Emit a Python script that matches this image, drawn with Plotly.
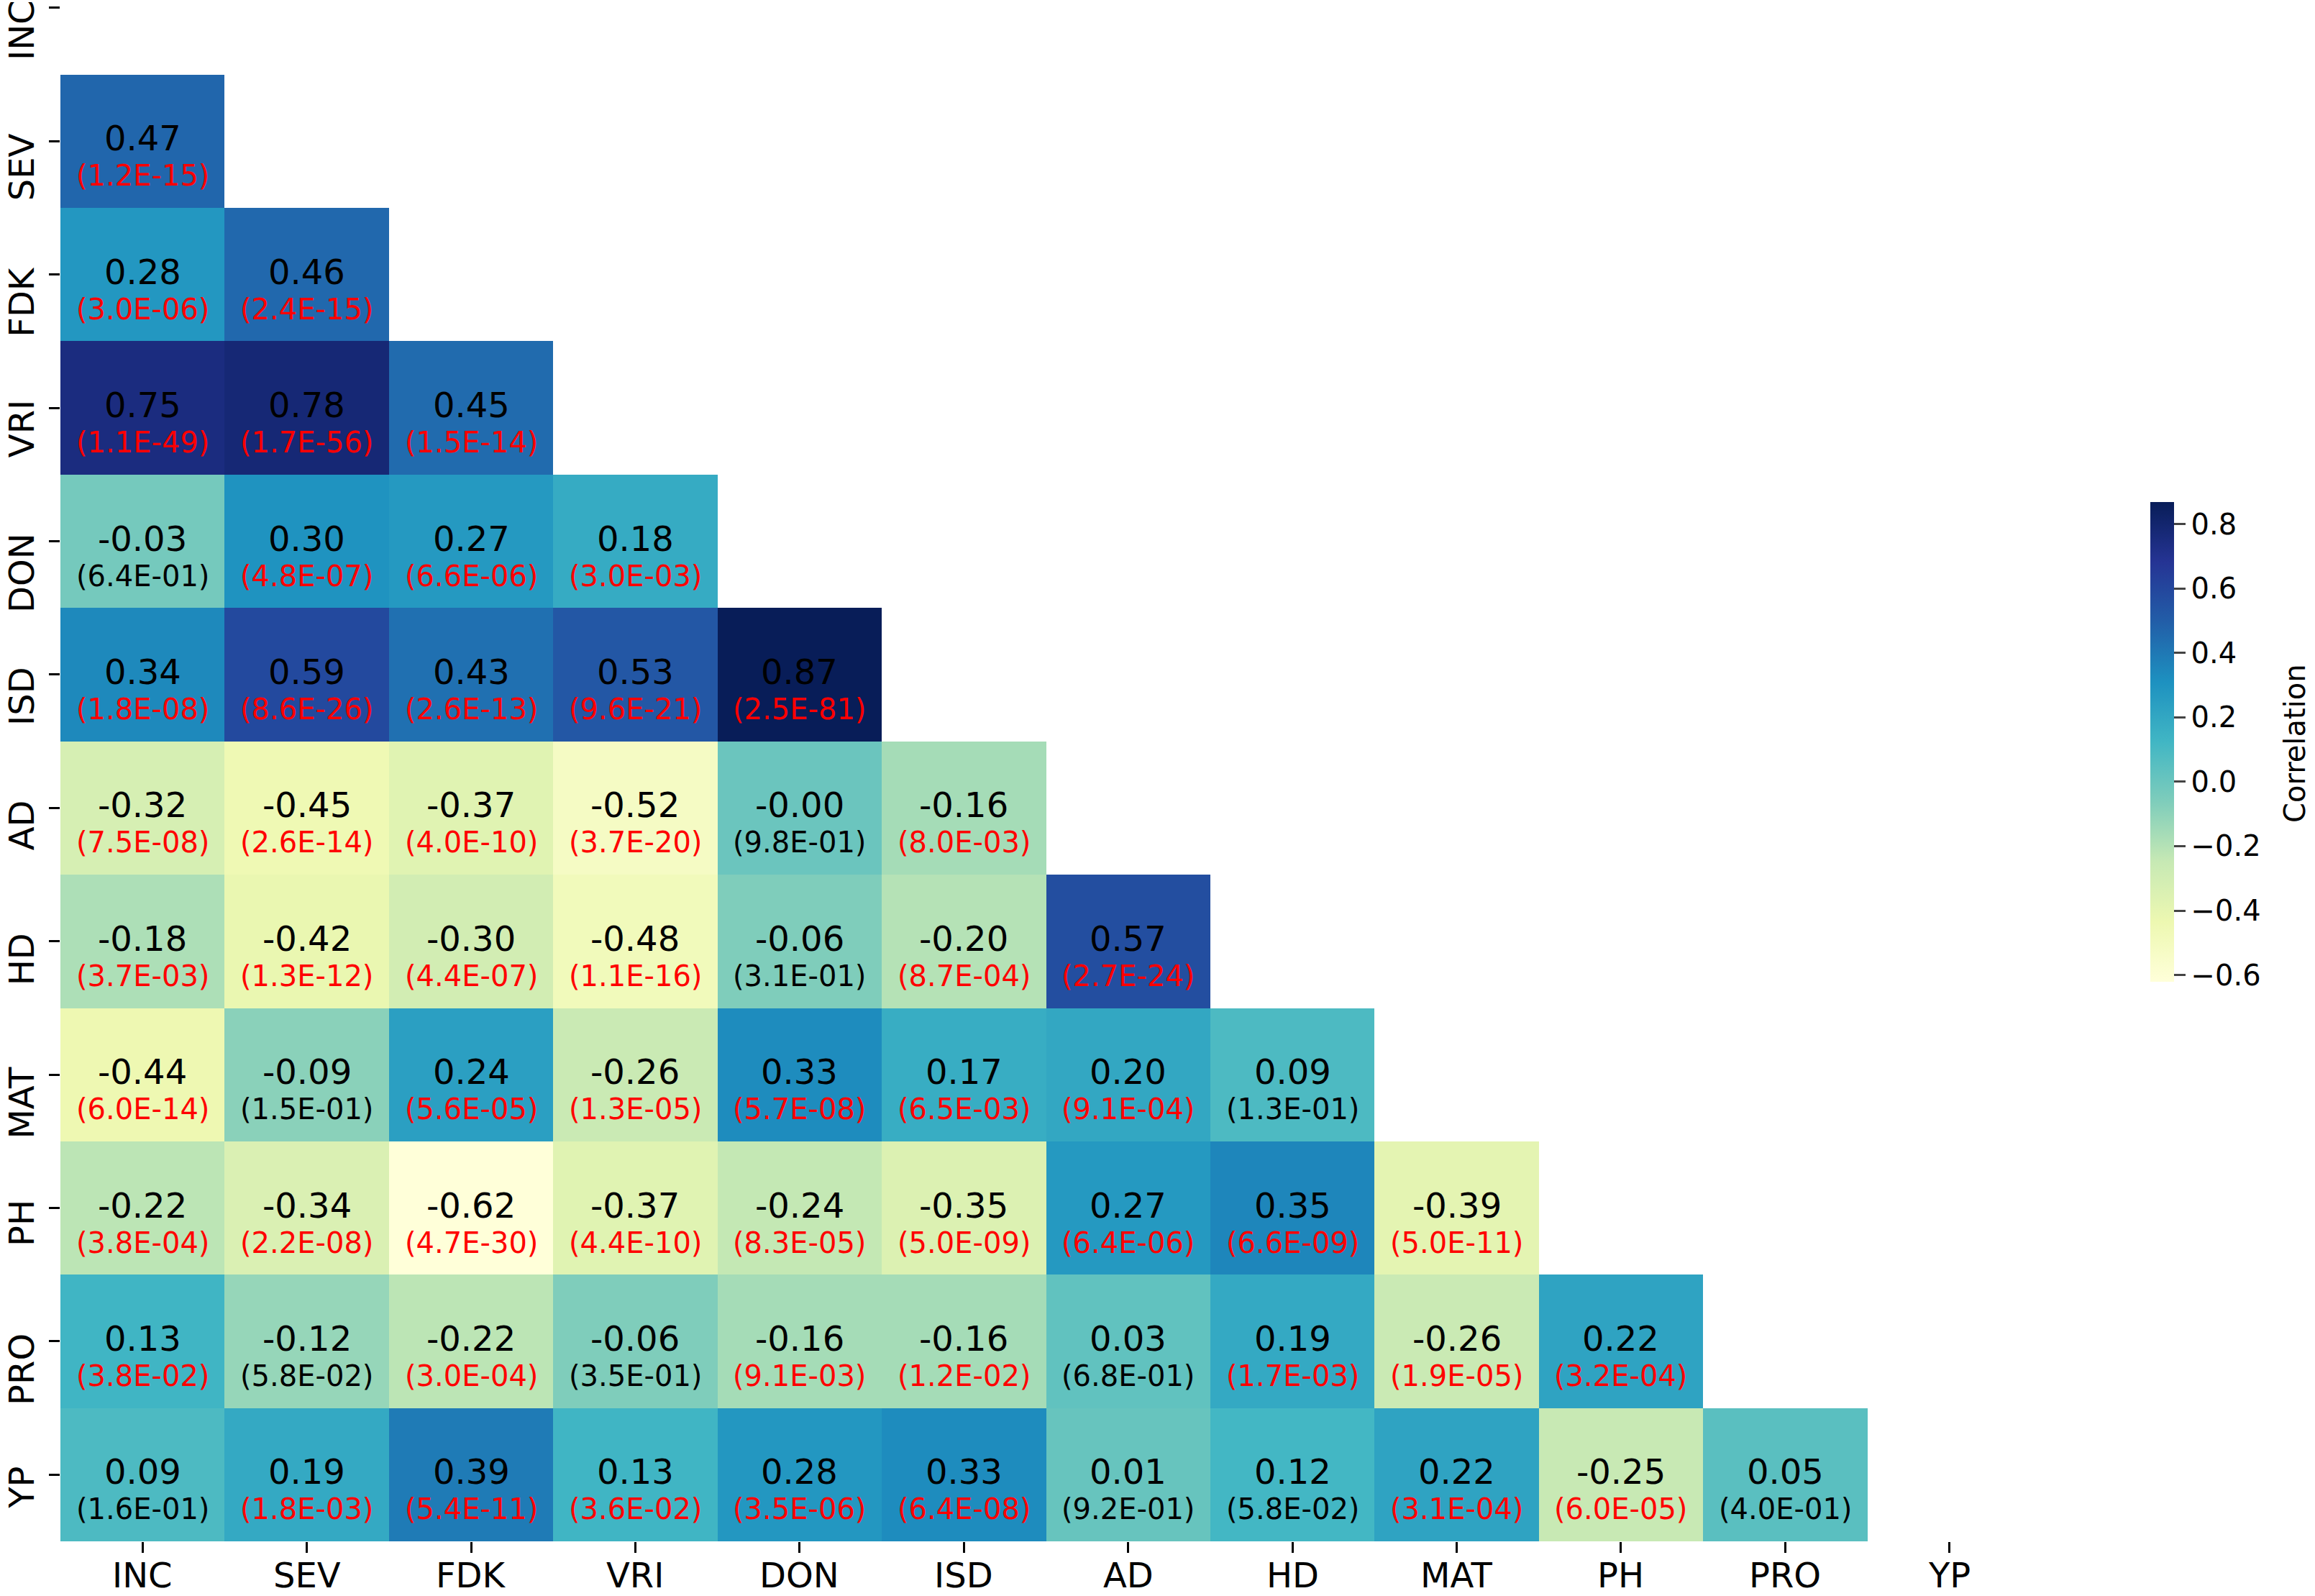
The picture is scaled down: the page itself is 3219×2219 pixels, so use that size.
import plotly.graph_objects as go

# lower-triangle correlation heatmap with p-values
labels = ["INC", "SEV", "FDK", "VRI", "DON", "ISD", "AD", "HD", "MAT", "PH", "PRO", "YP"]

# row i holds the correlations with columns 0..i-1
corr_rows = [
    [],
    [0.47],
    [0.28, 0.46],
    [0.75, 0.78, 0.45],
    [-0.03, 0.30, 0.27, 0.18],
    [0.34, 0.59, 0.43, 0.53, 0.87],
    [-0.32, -0.45, -0.37, -0.52, -0.00, -0.16],
    [-0.18, -0.42, -0.30, -0.48, -0.06, -0.20, 0.57],
    [-0.44, -0.09, 0.24, -0.26, 0.33, 0.17, 0.20, 0.09],
    [-0.22, -0.34, -0.62, -0.37, -0.24, -0.35, 0.27, 0.35, -0.39],
    [0.13, -0.12, -0.22, -0.06, -0.16, -0.16, 0.03, 0.19, -0.26, 0.22],
    [0.09, 0.19, 0.39, 0.13, 0.28, 0.33, 0.01, 0.12, 0.22, -0.25, 0.05],
]

pval_rows = [
    [],
    [1.2e-15],
    [3.0e-06, 2.4e-15],
    [1.1e-49, 1.7e-56, 1.5e-14],
    [6.4e-01, 4.8e-07, 6.6e-06, 3.0e-03],
    [1.8e-08, 8.6e-26, 2.6e-13, 9.6e-21, 2.5e-81],
    [7.5e-08, 2.6e-14, 4.0e-10, 3.7e-20, 9.8e-01, 8.0e-03],
    [3.7e-03, 1.3e-12, 4.4e-07, 1.1e-16, 3.1e-01, 8.7e-04, 2.7e-24],
    [6.0e-14, 1.5e-01, 5.6e-05, 1.3e-05, 5.7e-08, 6.5e-03, 9.1e-04, 1.3e-01],
    [3.8e-04, 2.2e-08, 4.7e-30, 4.4e-10, 8.3e-05, 5.0e-09, 6.4e-06, 6.6e-09, 5.0e-11],
    [3.8e-02, 5.8e-02, 3.0e-04, 3.5e-01, 9.1e-03, 1.2e-02, 6.8e-01, 1.7e-03, 1.9e-05, 3.2e-04],
    [1.6e-01, 1.8e-03, 5.4e-11, 3.6e-02, 3.5e-06, 6.4e-08, 9.2e-01, 5.8e-02, 3.1e-04, 6.0e-05, 4.0e-01],
]

ylgnbu = ["#ffffd9", "#edf8b1", "#c7e9b4", "#7fcdbb", "#41b6c4",
          "#1d91c0", "#225ea8", "#253494", "#081d58"]
cscale = [[k / 8, c] for k, c in enumerate(ylgnbu)]

# plot area in pixels
W, H = 3219, 2219
ML, MR, MT, MB = 84, 394, 0, 76
PW, PH = W - ML - MR, H - MT - MB

n = len(labels)
z = [[None] * n for _ in range(n)]
annots = []
for i, row in enumerate(corr_rows):
    for j, r in enumerate(row):
        z[i][j] = r
        p = pval_rows[i][j]
        annots.append(dict(x=j, y=i, text="{:.2f}".format(r), showarrow=False,
                           yshift=4, font=dict(size=48, color="black")))
        annots.append(dict(x=j, y=i, text="({:.1E})".format(p), showarrow=False,
                           yshift=-48, font=dict(size=40, color="red" if p < 0.05 else "black")))

# tick labels as annotations (matplotlib-like placement)
for k, lab in enumerate(labels):
    annots.append(dict(xref="x", yref="paper", x=k, y=0, yanchor="middle", yshift=-47,
                       xanchor="center", text=lab, showarrow=False,
                       font=dict(size=48, color="black")))
    annots.append(dict(xref="paper", yref="y", x=(30 - ML) / PW, y=k, xanchor="center",
                       yanchor="top", yshift=13, textangle=-90, text=lab, showarrow=False,
                       font=dict(size=48, color="black")))

# colorbar label
annots.append(dict(xref="paper", yref="paper", x=(3191 - ML) / PW, y=1 - 1034 / PH,
                   xanchor="center", yanchor="middle",
                   text="Correlation", textangle=-90, showarrow=False,
                   font=dict(size=40, color="black")))

allvals = [v for row in corr_rows for v in row]

heat = go.Heatmap(
    z=z, x=list(range(n)), y=list(range(n)),
    colorscale=cscale, zmin=min(allvals), zmax=max(allvals),
    hoverinfo="skip",
    colorbar=dict(
        x=(2990 - ML) / PW, xanchor="left", xpad=0,
        y=1 - 1031 / PH, yanchor="middle", ypad=0,
        len=667 / PH, thickness=33, outlinewidth=0,
        tick0=0, dtick=0.2, tickformat=".1f",
        ticks="outside", ticklen=16, tickwidth=3,
        tickfont=dict(size=40, color="black"),
    ),
)

fig = go.Figure(data=[heat])
fig.update_layout(
    width=W, height=H,
    margin=dict(l=ML, r=MR, t=MT, b=MB, autoexpand=False),
    paper_bgcolor="white", plot_bgcolor="white",
    font=dict(family="DejaVu Sans", color="black"),
    annotations=annots,
    xaxis=dict(range=[-0.5, 11.5], tickvals=list(range(n)), showticklabels=False,
               showgrid=False, zeroline=False, showline=False, automargin=False,
               ticks="outside", ticklen=15, tickwidth=3, tickcolor="black"),
    yaxis=dict(range=[11.5, -0.059], tickvals=list(range(n)), showticklabels=False,
               showgrid=False, zeroline=False, showline=False, automargin=False,
               ticks="outside", ticklen=15, tickwidth=3, tickcolor="black"),
)

# drop the default page margin so the figure fills the window exactly
fig.write_html("out.html", config={"displayModeBar": False},
               post_script="document.body.style.margin='0';document.body.style.overflow='hidden';")
